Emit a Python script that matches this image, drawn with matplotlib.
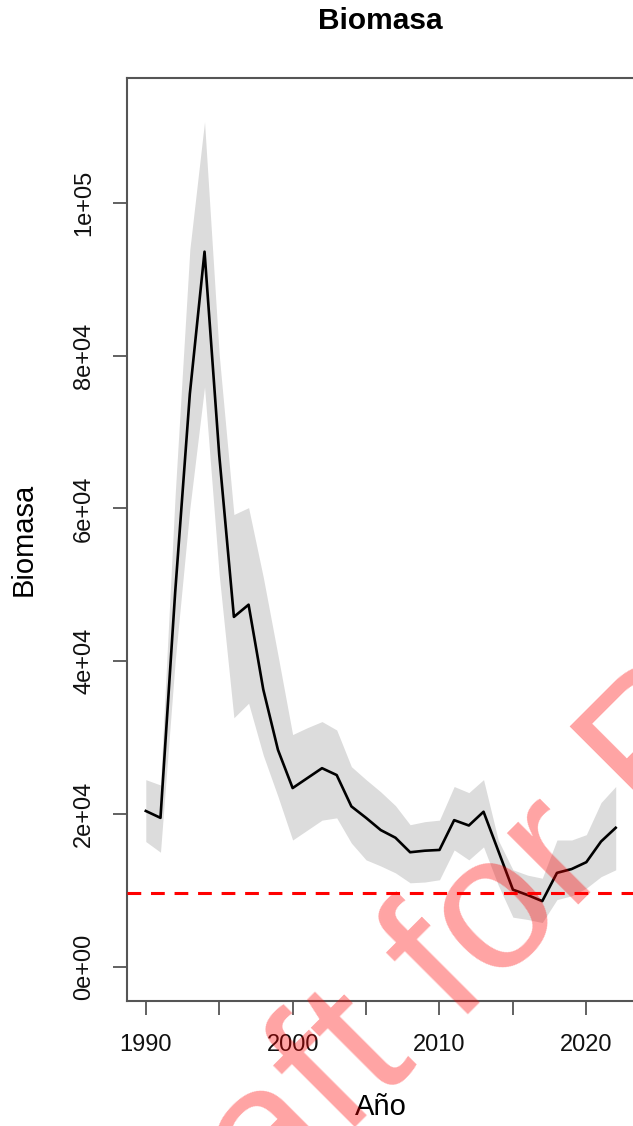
import matplotlib
matplotlib.use("Agg")
import matplotlib.pyplot as plt

plt.rcParams["font.family"] = ["Liberation Sans", "DejaVu Sans"]

# ---------------------------------------------------------------------------
# Data
# ---------------------------------------------------------------------------
years = list(range(1990, 2023))
biomasa = [20400, 19500, 49000, 75000, 93600, 67000, 45800, 47400, 36300, 28400,
           23400, 24700, 26000, 25100, 21000, 19500, 17900, 16900, 15000, 15200,
           15300, 19200, 18500, 20300, 15200, 10100, 9400, 8600, 12300, 12800,
           13700, 16400, 18200]
upper = [24500, 23800, 61800, 93900, 110600, 80100, 59200, 60100, 51000, 40800,
         30400, 31300, 32100, 31000, 26200, 24500, 22900, 21100, 18600, 19000,
         19200, 23600, 22800, 24500, 16600, 12700, 12000, 11600, 16600, 16600,
         17300, 21500, 23600]
lower = [16400, 15000, 40000, 60000, 75900, 51300, 32600, 34500, 27700, 22300,
         16600, 17900, 19200, 19500, 16200, 14000, 13200, 12300, 11000, 11100,
         11400, 15300, 14000, 15700, 10700, 6500, 6200, 5800, 8800, 9300,
         10300, 11800, 12700]
ref_level = 9650

x_ticks = [1990, 1995, 2000, 2005, 2010, 2015, 2020]
x_ticklabels = ["1990", "", "2000", "", "2010", "", "2020"]
y_ticks = [0, 20000, 40000, 60000, 80000, 100000]
y_ticklabels = ["0e+00", "2e+04", "4e+04", "6e+04", "8e+04", "1e+05"]

W, H, DPI = 633, 1126, 100
fig = plt.figure(figsize=(W / DPI, H / DPI), dpi=DPI, facecolor="white")

# axes box in pixels: left 127, right ~634.5, top 78, bottom 1001
ax = fig.add_axes([127 / W, (H - 1001) / H, (634.5 - 127) / W, (1001 - 78) / H])

ax.fill_between(years, lower, upper, color="#DCDCDC", lw=0, zorder=1)
ax.plot(years, biomasa, color="black", lw=1.9, zorder=3)
ax.axhline(ref_level, color="#FF0000", lw=2.2, ls=(0, (4.5, 3.2)), zorder=4)

# R-style limits (4 % padding)
span_x = years[-1] - years[0]
ax.set_xlim(years[0] - 0.04 * span_x, years[-1] + 0.04 * span_x)
ax.set_ylim(-4470, 116330)

for s in ax.spines.values():
    s.set_color("#555555")
    s.set_linewidth(1.5)

ax.set_xticks(x_ticks)
ax.set_xticklabels(x_ticklabels)
ax.set_yticks(y_ticks)
ax.set_yticklabels(y_ticklabels, rotation=90, va="center")
ax.tick_params(axis="both", length=10, width=1.3, color="#555555",
               labelsize=17, labelcolor="#111111")
ax.tick_params(axis="x", pad=14)
ax.tick_params(axis="y", pad=13)

ax.set_xlabel("Año", fontsize=21)
ax.xaxis.set_label_coords(0.5, -(1107 - 1001) / 923)
ax.xaxis.label.set_va("center")
ax.set_ylabel("Biomasa", fontsize=21)
ax.yaxis.set_label_coords(-(127 - 24) / 507.5, 0.5)
ax.yaxis.label.set_va("center")

ax.text(0.5, 1 + 57 / 923, "Biomasa", transform=ax.transAxes,
        ha="center", va="center", fontsize=21.5, fontweight="bold")

# watermark
fig.text(126 / W, (H - 1358) / H, "Draft for Review", rotation=45,
         rotation_mode="anchor", ha="left", va="baseline",
         fontsize=138, color="#FF0000", alpha=0.36, zorder=10)

fig.savefig("out.png", dpi=DPI, facecolor="white")
